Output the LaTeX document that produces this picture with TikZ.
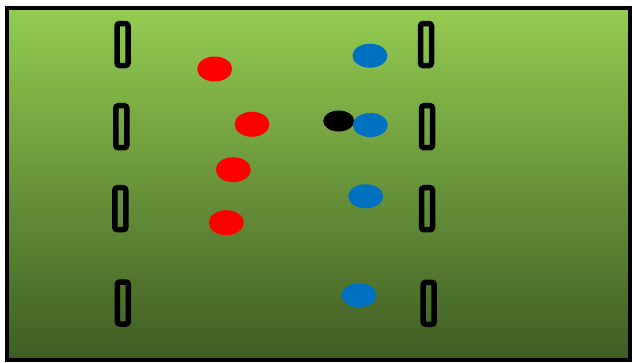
\documentclass[tikz,border=0pt]{standalone}
\usetikzlibrary{shapes.geometric}
\begin{document}
\begin{tikzpicture}[x=1pt,y=-1pt,
  goal/.style={draw=black,line width=5.5pt,rounded corners=2.5pt,minimum width=11pt,minimum height=42pt,inner sep=0pt},
  redp/.style={ellipse,fill=red,minimum width=35pt,minimum height=25pt,inner sep=0pt},
  bluep/.style={ellipse,fill={rgb,255:red,0;green,112;blue,192},minimum width=35pt,minimum height=24pt,inner sep=0pt},
  ballp/.style={ellipse,fill=black,minimum width=31pt,minimum height=21pt,inner sep=0pt}]
\useasboundingbox (0,0) rectangle (632,362);
\fill[white] (0,0) rectangle (632,362);
\shade[top color={rgb,255:red,148;green,204;blue,82},middle color={rgb,255:red,112;green,162;blue,62},bottom color={rgb,255:red,62;green,92;blue,34}] (7,8) rectangle (630,360);
\draw[line width=4pt,black] (7,8) rectangle (630,360);
% left goals
\node[goal] (l1) at (122.5,44.5) {};
\node[goal] (l2) at (121.3,126.7) {};
\node[goal] (l3) at (120.3,208.7) {};
\node[goal] (l4) at (122.8,303) {};
% right goals
\node[goal] (r1) at (426,44.5) {};
\node[goal] (r2) at (427,126.7) {};
\node[goal] (r3) at (427,208.7) {};
\node[goal] (r4) at (428.7,303.3) {};
% red players
\node[redp] (a1) at (214.7,69) {};
\node[redp] (a2) at (252,124.3) {};
\node[redp] (a3) at (233.3,169.7) {};
\node[redp] (a4) at (226.3,222.7) {};
% ball
\node[ballp] (ball) at (338.7,121) {};
% blue players
\node[bluep] (b1) at (370,55.7) {};
\node[bluep] (b2) at (370.3,125) {};
\node[bluep] (b3) at (365.7,196.3) {};
\node[bluep] (b4) at (359,295.3) {};
\end{tikzpicture}
\end{document}
